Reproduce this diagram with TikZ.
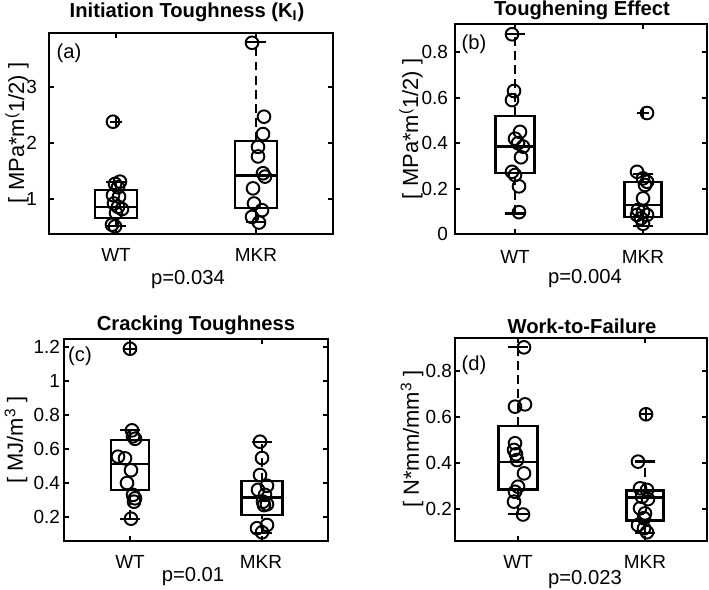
\documentclass[tikz,border=0pt]{standalone}
\usepackage{fontspec}
\setmainfont{Liberation Sans}
\usetikzlibrary{plotmarks}

% box with whiskers: x, lo, q1, median, q3, hi, half width
\newcommand{\whiskbox}[7]{%
  \draw[whisk] (#1,#2) -- (#1,#3) (#1,#5) -- (#1,#6);
  \draw[bar] (#1-10,#2) -- (#1+10,#2) (#1-10,#6) -- (#1+10,#6);
  \draw[bar] (#1-#7,#3) rectangle (#1+#7,#5);
  \draw[bar] (#1-#7,#4) -- (#1+#7,#4);
}

\begin{document}
\begin{tikzpicture}[x=0.02cm, y=0.02cm,
  frame/.style={line width=1.1pt},
  bar/.style={line width=1.3pt},
  whisk/.style={line width=1.2pt, dash pattern=on 5pt off 3pt},
  pts/.style={only marks, mark=o, mark size=3.6pt, mark options={line width=1.1pt}},
  outl/.style={only marks, mark=+, mark size=3.2pt, mark options={line width=1.1pt}},
  lbl/.style={font=\fontsize{10.8}{13}\selectfont, inner sep=1pt},
  pval/.style={font=\fontsize{11.5}{14}\selectfont, inner sep=1pt},
  ttl/.style={font=\fontsize{11.5}{14}\selectfont\bfseries, inner sep=1pt},
  ylbl/.style={font=\fontsize{12.5}{15}\selectfont, rotate=90, inner sep=1pt}]
\useasboundingbox (0,0) rectangle (709,590);

% (a) Initiation toughness
\node[ttl] (ta) at (187,578) {Initiation Toughness (K\textsubscript{I})};
\node[ylbl] (ya) at (17,457) {[ MPa*m\textsuperscript{(}1/2) ]};
\node[pval] (la) at (69,537) {(a)};
\node[lbl] (wa) at (116,335) {WT};
\node[lbl] (ma) at (256,335) {MKR};
\node[pval] (pa) at (188,310) {p=0.034};
\begin{scope}[shift={(0,335)}, y=1.12cm]
  \draw[frame] (49,0.375) rectangle (333,3.964);
  \foreach \t in {1,2,3} {
    \draw[frame] (49,\t) -- ++(5,0) (333,\t) -- ++(-5,0);
    \node[lbl, anchor=east] (a\t) at (39,\t) {\t};
  }
  \foreach \g in {116,256}
    \draw[frame] (\g,0.375) -- ++(0,2.8pt) (\g,3.964) -- ++(0,-2.8pt);
  \whiskbox{116}{0.52}{0.66}{0.86}{1.16}{1.30}{21}
  \whiskbox{256}{0.595}{0.845}{1.42}{2.04}{3.80}{21}
  \draw[outl] plot coordinates {(116,2.38)};
  \draw[pts] plot coordinates {(113,2.38) (120,1.31) (115,1.27) (118,1.21)
    (113,1.07) (119,1.04) (114,0.92) (118,0.86) (122,0.82) (116,0.75) (112,0.54) (115,0.51)};
  \draw[pts] plot coordinates {(252,3.79) (264,2.47) (263,2.16) (258,1.93)
    (258,1.76) (263,1.46) (265,1.40) (253,1.19) (254,0.92) (262,0.80) (252,0.68) (259,0.58)};
\end{scope}

% (b) Toughening effect
\node[ttl] (tb) at (582,580) {Toughening Effect};
\node[ylbl] (yb) at (411,461) {[ MPa*m\textsuperscript{(}1/2) ]};
\node[pval] (lb) at (474,546) {(b)};
\node[lbl] (wb) at (515,333) {WT};
\node[lbl] (mb) at (643,333) {MKR};
\node[pval] (pb) at (585,311) {p=0.004};
\begin{scope}[shift={(0,356)}, y=4.54cm]
  \draw[frame] (455,0) rectangle (707,0.925);
  \foreach \t [count=\i] in {0,0.2,0.4,0.6,0.8} {
    \draw[frame] (455,\t) -- ++(5,0) (707,\t) -- ++(-5,0);
    \node[lbl, anchor=east] (b\i) at (450,\t) {\t};
  }
  \foreach \g in {515,643}
    \draw[frame] (\g,0) -- ++(0,2.8pt) (\g,0.925) -- ++(0,-2.8pt);
  \whiskbox{515}{0.09}{0.27}{0.385}{0.52}{0.88}{19.5}
  \whiskbox{643}{0.035}{0.075}{0.128}{0.228}{0.265}{18.5}
  \draw[outl] plot coordinates {(643,0.533)};
  \draw[pts] plot coordinates {(512,0.88) (514,0.63) (512,0.59) (520,0.45)
    (515,0.42) (518,0.40) (523,0.385) (521,0.338) (512,0.274) (515,0.26) (519,0.21) (519,0.096)};
  \draw[pts] plot coordinates {(647,0.533) (637,0.274) (643,0.245) (647,0.23)
    (645,0.216) (643,0.157) (638,0.106) (643,0.098) (637,0.084) (647,0.084) (641,0.069) (643,0.045)};
\end{scope}

% (c) Cracking toughness
\node[ttl] (tc) at (196,265) {Cracking Toughness};
\node[ylbl] (yc) at (16,150) {[ MJ/m\textsuperscript{3} ]};
\node[pval] (lc) at (80,234) {(c)};
\node[lbl] (wc) at (130,28) {WT};
\node[lbl] (mc) at (261,28) {MKR};
\node[pval] (pc) at (193,13) {p=0.01};
\begin{scope}[shift={(0,39)}, y=3.4cm]
  \draw[frame] (64,0.059) rectangle (328,1.247);
  \foreach \t [count=\i] in {0.2,0.4,0.6,0.8,1,1.2} {
    \draw[frame] (64,\t) -- ++(5,0) (328,\t) -- ++(-5,0);
    \node[lbl, anchor=east] (c\i) at (62,\t) {\t};
  }
  \foreach \g in {130,262}
    \draw[frame] (\g,0.059) -- ++(0,2.8pt) (\g,1.247) -- ++(0,-2.8pt);
  \whiskbox{130}{0.19}{0.36}{0.51}{0.655}{0.71}{19}
  \whiskbox{262}{0.105}{0.21}{0.315}{0.41}{0.643}{20.5}
  \draw[outl] plot coordinates {(130,1.19)};
  \draw[pts] plot coordinates {(130,1.19) (132,0.71) (133,0.675) (135,0.66)
    (118,0.555) (125,0.545) (131,0.475) (127,0.40) (133,0.33) (135,0.31) (134,0.29) (131,0.19)};
  \draw[pts] plot coordinates {(260,0.643) (262,0.547) (260,0.447) (258,0.36)
    (267,0.384) (265,0.33) (263,0.29) (267,0.275) (264,0.27) (257,0.134) (267,0.153) (262,0.11)};
\end{scope}

% (d) Work to failure
\node[ttl] (td) at (582,264) {Work-to-Failure};
\node[ylbl] (yd) at (412,151) {[ N*mm/mm\textsuperscript{3} ]};
\node[pval] (ld) at (474,225) {(d)};
\node[lbl] (wd) at (518,28) {WT};
\node[lbl] (md) at (645,28) {MKR};
\node[pval] (pd) at (585,10) {p=0.023};
\begin{scope}[shift={(0,35)}, y=4.6cm]
  \draw[frame] (455,0.061) rectangle (707,0.943);
  \foreach \t [count=\i] in {0.2,0.4,0.6,0.8} {
    \draw[frame] (455,\t) -- ++(5,0) (707,\t) -- ++(-5,0);
    \node[lbl, anchor=east] (d\i) at (454,\t) {\t};
  }
  \foreach \g in {518,645}
    \draw[frame] (\g,0.061) -- ++(0,2.8pt) (\g,0.943) -- ++(0,-2.8pt);
  \whiskbox{518}{0.178}{0.285}{0.405}{0.56}{0.905}{19.5}
  \whiskbox{645}{0.095}{0.15}{0.25}{0.28}{0.406}{18.5}
  \draw[outl] plot coordinates {(646,0.612)};
  \draw[pts] plot coordinates {(524,0.903) (515,0.645) (525,0.655) (515,0.486)
    (514,0.457) (516,0.438) (517,0.413) (524,0.355) (518,0.297) (515,0.275) (514,0.232) (523,0.176)};
  \draw[pts] plot coordinates {(638,0.406) (646,0.612) (640,0.29) (647,0.283)
    (642,0.253) (648,0.243) (640,0.203) (645,0.181) (644,0.16) (638,0.13) (644,0.116) (647,0.099)};
\end{scope}
\end{tikzpicture}
\end{document}
